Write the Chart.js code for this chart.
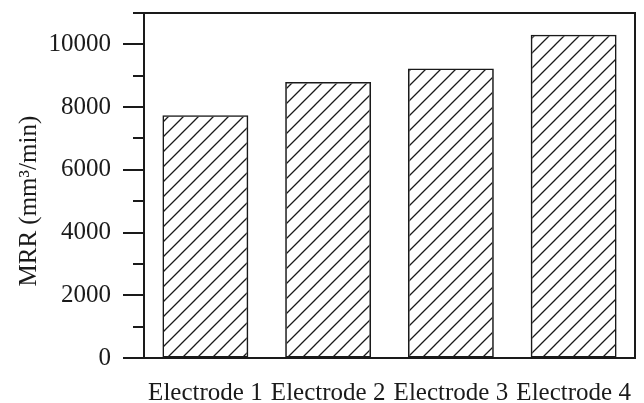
<!DOCTYPE html>
<html>
<head>
<meta charset="utf-8">
<script src="https://cdn.jsdelivr.net/npm/chart.js@4"></script>
<style>
  html, body { margin: 0; padding: 0; background: #fff; }
  #wrap { width: 644px; height: 403px; }
</style>
</head>
<body>
<div id="wrap"><canvas id="mrrChart" width="644" height="403"></canvas></div>
<script>
const categories = ["Electrode 1", "Electrode 2", "Electrode 3", "Electrode 4"];
const mrrValues = [7740, 8800, 9230, 10310];
const yMin = 0;
const yMax = 11000;
const yStep = 1000;
const yLabelStep = 2000;

const ink = "#1a1a1a";
const serif = "'Liberation Serif', 'Times New Roman', serif";

// diagonal "/" hatch tile for the bars
function makeHatch() {
  const s = 15;
  const tile = document.createElement("canvas");
  tile.width = s;
  tile.height = s;
  const c = tile.getContext("2d");
  c.strokeStyle = ink;
  c.lineWidth = 1.3;
  c.beginPath();
  c.moveTo(0, s); c.lineTo(s, 0);
  c.moveTo(-2, 2); c.lineTo(2, -2);
  c.moveTo(s - 2, s + 2); c.lineTo(s + 2, s - 2);
  c.stroke();
  return tile.getContext("2d").createPattern(tile, "repeat");
}

// box around plot + long/short tick marks on the y axis
const frameAndTicks = {
  id: "frameAndTicks",
  afterDraw(chart) {
    const { ctx, chartArea: a } = chart;
    const y = chart.scales.y;
    ctx.save();
    ctx.strokeStyle = ink;
    ctx.lineWidth = 2;
    ctx.strokeRect(a.left, a.top, a.right - a.left, a.bottom - a.top);
    ctx.beginPath();
    y.ticks.forEach((t) => {
      const py = Math.round(y.getPixelForValue(t.value));
      const len = t.value % yLabelStep === 0 ? 21 : 11;
      ctx.moveTo(a.left - len, py);
      ctx.lineTo(a.left, py);
    });
    ctx.stroke();
    ctx.restore();
  },
};

new Chart(document.getElementById("mrrChart"), {
  type: "bar",
  data: {
    labels: categories,
    datasets: [
      {
        data: mrrValues,
        backgroundColor: makeHatch(),
        borderColor: ink,
        borderWidth: 1.6,
        borderSkipped: false,
        categoryPercentage: 1,
        barPercentage: 0.7,
      },
    ],
  },
  options: {
    responsive: false,
    animation: false,
    layout: { padding: { top: 13, right: 9, left: 0, bottom: 0 } },
    plugins: { legend: { display: false }, tooltip: { enabled: false } },
    scales: {
      x: {
        grid: { display: false, drawTicks: false },
        border: { display: false },
        ticks: {
          color: ink,
          padding: 20,
          maxRotation: 0,
          font: { family: serif, size: 25 },
        },
        afterFit(scale) {
          scale.height = 45;
          scale.paddingLeft = 0;
          scale.paddingRight = 0;
        },
      },
      y: {
        min: yMin,
        max: yMax,
        grid: { drawOnChartArea: false, tickLength: 21, tickColor: "transparent" },
        border: { display: false },
        ticks: {
          stepSize: yStep,
          autoSkip: false,
          color: ink,
          padding: 12,
          font: { family: serif, size: 25 },
          callback: (v) => (v % yLabelStep === 0 ? String(v) : ""),
        },
        title: {
          display: true,
          // trailing spaces nudge the centred title down a little, like the original
          text: "MRR (mm³/min)     ",
          color: ink,
          padding: { top: 14, bottom: 0 },
          font: { family: serif, size: 25 },
        },
        afterFit(scale) {
          scale.width = 144;
          scale.paddingTop = 0;
          scale.paddingBottom = 0;
        },
      },
    },
  },
  plugins: [frameAndTicks],
});
</script>
</body>
</html>
